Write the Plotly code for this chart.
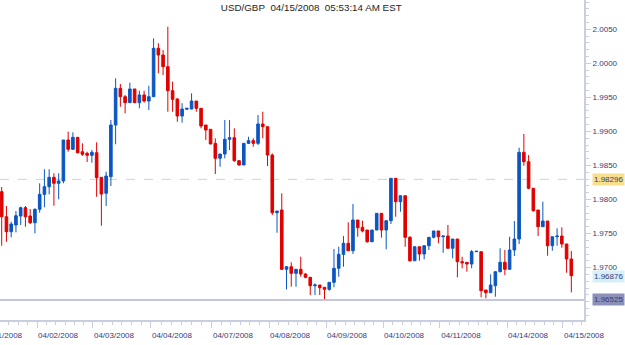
import plotly.graph_objects as go

# ---- data (2-hour candles, USD/GBP) ----
idx = list(range(121))

opens = [1.98115, 1.97747, 1.97527, 1.97626, 1.97758, 1.97880, 1.97758, 1.97659, 1.97856, 1.98076,
         1.98188, 1.98326, 1.98238, 1.98272, 1.98874, 1.98737, 1.98913, 1.98702, 1.98678, 1.98649,
         1.98687, 1.98326, 1.98091, 1.98335, 1.99094, 1.99633, 1.99510, 1.99422, 1.99623, 1.99422,
         1.99535, 1.99446, 1.99510, 2.00220, 2.00122, 1.99950, 1.99598, 1.99476, 1.99226, 1.99325,
         1.99329, 1.99446, 1.99339, 1.99094, 1.99031, 1.98825, 1.98605, 1.98668, 1.98884, 1.98908,
         1.98570, 1.98507, 1.98825, 1.98864, 1.98825, 1.99109, 1.99069, 1.98653, 1.97806, 1.97846,
         1.96975, 1.97013, 1.96916, 1.96975, 1.96906, 1.96858, 1.96734, 1.96745, 1.96711, 1.96681,
         1.96784, 1.96990, 1.97195, 1.97357, 1.97248, 1.97699, 1.97592, 1.97552, 1.97380, 1.97552,
         1.97797, 1.97552, 1.97689, 1.98311, 1.97968, 1.98056, 1.97445, 1.97101, 1.97307, 1.97200,
         1.97322, 1.97445, 1.97538, 1.97454, 1.97464, 1.97284, 1.97420, 1.97087, 1.97078, 1.97053,
         1.97234, 1.97234, 1.96671, 1.96632, 1.96734, 1.96940, 1.97078, 1.96975, 1.97259, 1.97420,
         1.98693, 1.98555, 1.98165, 1.97846, 1.97601, 1.97684, 1.97322, 1.97454, 1.97464, 1.97347,
         1.97126]

highs = [1.98184, 1.97905, 1.97674, 1.97831, 1.97894, 1.97905, 1.97861, 1.97871, 1.98238, 1.98444,
         1.98444, 1.98385, 1.98385, 1.98874, 1.98996, 1.98987, 1.98913, 1.98825, 1.98702, 1.98727,
         1.98840, 1.98326, 1.98408, 1.99167, 1.99780, 1.99696, 1.99535, 1.99715, 1.99623, 1.99598,
         1.99598, 1.99671, 2.00367, 2.00294, 2.00195, 2.00537, 1.99730, 1.99486, 1.99413, 1.99339,
         1.99559, 1.99446, 1.99339, 1.99094, 1.99031, 1.98899, 1.98668, 1.99167, 1.99167, 1.99046,
         1.98580, 1.98825, 1.98922, 1.98899, 1.99241, 1.99289, 1.99069, 1.98678, 1.97831, 1.98091,
         1.97024, 1.97078, 1.96975, 1.97160, 1.96916, 1.96858, 1.96770, 1.96745, 1.96711, 1.96784,
         1.97273, 1.97307, 1.97464, 1.97665, 1.97934, 1.97699, 1.97689, 1.97552, 1.97552, 1.97797,
         1.97797, 1.97689, 1.98311, 1.98311, 1.98056, 1.98056, 1.97464, 1.97307, 1.97307, 1.97322,
         1.97445, 1.97538, 1.97538, 1.97464, 1.97626, 1.97420, 1.97420, 1.97160, 1.97078, 1.97259,
         1.97240, 1.97234, 1.96671, 1.96902, 1.96940, 1.97284, 1.97259, 1.97454, 1.97684, 1.98761,
         1.98962, 1.98653, 1.98165, 1.97846, 1.97968, 1.97684, 1.97454, 1.97577, 1.97592, 1.97347,
         1.97244]

lows = [1.97322, 1.97380, 1.97445, 1.97518, 1.97626, 1.97601, 1.97640, 1.97504, 1.97806, 1.97886,
        1.98076, 1.97909, 1.98003, 1.98238, 1.98702, 1.98727, 1.98678, 1.98639, 1.98551, 1.98540,
        1.98041, 1.97615, 1.97905, 1.98198, 1.98811, 1.99363, 1.99266, 1.99422, 1.99422, 1.99339,
        1.99422, 1.99314, 1.99510, 1.99853, 1.99828, 1.99289, 1.99289, 1.99142, 1.99128, 1.99325,
        1.99325, 1.99289, 1.99046, 1.98874, 1.98815, 1.98374, 1.98482, 1.98605, 1.98727, 1.98555,
        1.98496, 1.98507, 1.98815, 1.98775, 1.98800, 1.98899, 1.98492, 1.97772, 1.97512, 1.96965,
        1.96681, 1.96720, 1.96720, 1.96866, 1.96843, 1.96598, 1.96598, 1.96598, 1.96539, 1.96661,
        1.96711, 1.96866, 1.97013, 1.97248, 1.97200, 1.97454, 1.97518, 1.97366, 1.97380, 1.97552,
        1.97439, 1.97269, 1.97640, 1.97747, 1.97821, 1.97307, 1.97087, 1.97101, 1.97101, 1.97122,
        1.97259, 1.97430, 1.97357, 1.97219, 1.97284, 1.97137, 1.96858, 1.96990, 1.96940, 1.96990,
        1.97234, 1.96564, 1.96549, 1.96632, 1.96573, 1.96931, 1.96891, 1.96975, 1.97170, 1.97347,
        1.98496, 1.98150, 1.97821, 1.97464, 1.97601, 1.97175, 1.97248, 1.97322, 1.97292, 1.96925,
        1.96637]

closes = [1.97747, 1.97527, 1.97640, 1.97762, 1.97880, 1.97747, 1.97659, 1.97856, 1.98076, 1.98188,
          1.98326, 1.98238, 1.98272, 1.98874, 1.98737, 1.98913, 1.98687, 1.98664, 1.98649, 1.98693,
          1.98320, 1.98081, 1.98345, 1.99094, 1.99633, 1.99510, 1.99422, 1.99623, 1.99422, 1.99535,
          1.99446, 1.99510, 2.00220, 2.00122, 1.99950, 1.99598, 1.99471, 1.99226, 1.99329, 1.99339,
          1.99446, 1.99339, 1.99079, 1.99021, 1.98815, 1.98605, 1.98668, 1.98884, 1.98908, 1.98570,
          1.98507, 1.98825, 1.98864, 1.98825, 1.99109, 1.99069, 1.98653, 1.97806, 1.97831, 1.96975,
          1.97013, 1.96916, 1.96975, 1.96906, 1.96858, 1.96734, 1.96745, 1.96705, 1.96681, 1.96784,
          1.96990, 1.97195, 1.97357, 1.97248, 1.97699, 1.97586, 1.97538, 1.97380, 1.97552, 1.97797,
          1.97552, 1.97689, 1.98311, 1.97968, 1.98056, 1.97445, 1.97101, 1.97307, 1.97200, 1.97322,
          1.97445, 1.97538, 1.97454, 1.97464, 1.97284, 1.97420, 1.97087, 1.97072, 1.97053, 1.97234,
          1.97240, 1.96661, 1.96632, 1.96745, 1.96940, 1.97078, 1.96975, 1.97259, 1.97420, 1.98693,
          1.98555, 1.98165, 1.97836, 1.97601, 1.97684, 1.97322, 1.97454, 1.97464, 1.97347, 1.97126,
          1.96881]

day_ticks = [7.44, 19.23, 31.45, 44.30, 56.31, 68.32, 80.33, 92.33, 106.45, 118.24]
day_labels = ["04/02/2008", "04/03/2008", "04/04/2008", "04/07/2008", "04/08/2008",
              "04/09/2008", "04/10/2008", "04/11/2008", "04/14/2008", "04/15/2008"]
first_label = "04/01/2008"

price_ticks = [1.970, 1.975, 1.980, 1.985, 1.990, 1.995, 2.000, 2.005]

ref_level = 1.98296      # dashed reference line
last_price = 1.96876     # last price marker
low_level = 1.96525      # low line

title_text = "USD/GBP\u00a0 04/15/2008\u00a0 05:53:14 AM EST"

# ---- styling ----
BLUE = "#0a56c2"
RED = "#e00000"
AXIS = "#c9cde0"
TXT = "#3a3a78"
FONT = "Liberation Sans, Arial, sans-serif"

X_RANGE = [-0.358, 122.67]
PLOT_W = 584.0

# minor ticks: ~every 2 candles between day ticks
bounds = [day_ticks[0] - 12] + day_ticks + [day_ticks[-1] + 12]
minor_ticks = []
for a, b in zip(bounds[:-1], bounds[1:]):
    n = max(1, round((b - a) / 2))
    for k in range(1, n):
        minor_ticks.append(a + (b - a) * k / n)

# the partly hidden first date label, positioned like the tick labels (shifted right of its tick)
first_tick = day_ticks[0] - (day_ticks[1] - day_ticks[0])
first_paper_x = (first_tick - X_RANGE[0]) / (X_RANGE[1] - X_RANGE[0]) + 21 / PLOT_W

fig = go.Figure()
fig.add_trace(go.Candlestick(
    x=idx, open=opens, high=highs, low=lows, close=closes,
    increasing=dict(line=dict(color=BLUE, width=1), fillcolor=BLUE),
    decreasing=dict(line=dict(color=RED, width=1), fillcolor=RED),
    whiskerwidth=0, hoverinfo="skip", showlegend=False,
))

fig.update_layout(
    width=625, height=345,
    margin=dict(l=0, r=41, t=0, b=25),
    paper_bgcolor="white", plot_bgcolor="white",
    boxgap=0.22,
    showlegend=False,
    title=dict(text=title_text, x=0.498, xref="container", xanchor="center",
               y=1 - 7.5 / 345, yref="container", yanchor="middle",
               font=dict(family=FONT, size=9.8, color="#1e1e1e")),
    xaxis=dict(
        range=X_RANGE, rangeslider=dict(visible=False),
        tickmode="array", tickvals=day_ticks, ticktext=day_labels,
        ticks="outside", ticklen=6, tickcolor=AXIS, tickwidth=1,
        ticklabelshift=21,
        tickfont=dict(family=FONT, size=8, color=TXT),
        minor=dict(tickvals=minor_ticks, ticks="outside", ticklen=3, tickcolor=AXIS),
        showline=True, linecolor=AXIS, linewidth=2,
        showgrid=False, zeroline=False, fixedrange=True,
    ),
    yaxis=dict(
        side="right", range=[1.96231, 2.009295],
        tickmode="array", tickvals=price_ticks, tickformat=".4f",
        ticks="outside", ticklen=5, tickcolor=AXIS,
        tickfont=dict(family=FONT, size=8, color=TXT),
        minor=dict(tickmode="linear", tick0=1.96, dtick=0.001, ticks="outside",
                   ticklen=3, tickcolor=AXIS),
        showline=True, linecolor=AXIS, linewidth=2,
        showgrid=False, zeroline=False, fixedrange=True,
    ),
    shapes=[
        dict(type="line", xref="paper", x0=0, x1=1, yref="y", y0=ref_level, y1=ref_level,
             line=dict(color="#d2d2d2", width=1, dash="dash"), layer="below"),
        dict(type="line", xref="paper", x0=0, x1=1, yref="y", y0=low_level, y1=low_level,
             line=dict(color="#c4c6de", width=2), layer="below"),
    ],
    annotations=[
        dict(text=txt, x=1, xref="paper", xanchor="left", xshift=8,
             y=yv, yref="y", yanchor="middle", showarrow=False,
             bgcolor=bg, borderpad=1,
             font=dict(family=FONT, size=8, color=TXT))
        for txt, yv, bg in [
            (f"{ref_level:.5f}", ref_level, "#f6e08e"),
            (f"{last_price:.5f}", last_price, "#d6eff8"),
            (f"{low_level:.5f}", low_level, "#8b91b8"),
        ]
    ] + [
        dict(text=first_label, x=first_paper_x, xref="paper", xanchor="center",
             y=-15 / 320, yref="paper", yanchor="middle", showarrow=False,
             font=dict(family=FONT, size=8, color=TXT)),
    ],
)

fig.write_html("out.html")
